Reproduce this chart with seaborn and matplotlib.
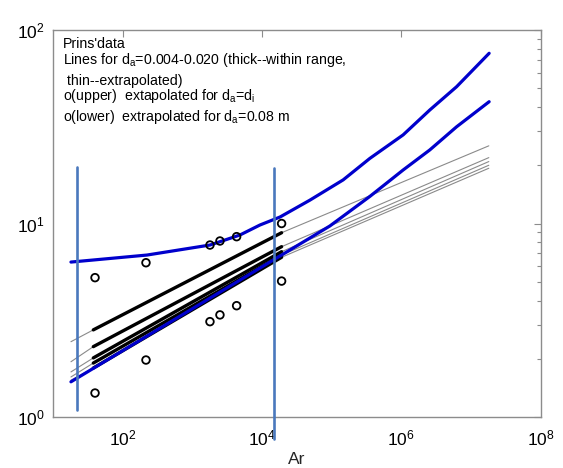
import matplotlib
matplotlib.use("Agg")
import matplotlib.pyplot as plt
import matplotlib.ticker as mticker
import numpy as np
import pandas as pd
import seaborn as sns

# ---------------- data ----------------
# Prins' data points (Ar, upper value, lower value)
ar_points = [40.1, 216, 1790, 2490, 4320, 19100]
y_upper_points = [5.25, 6.27, 7.74, 8.12, 8.55, 10.0]
y_lower_points = [1.33, 1.97, 3.11, 3.37, 3.76, 5.04]

# lines for d_a = 0.004 ... 0.020 : values at four Ar knots
ar_knots = [18.1, 37.9, 19100, 1.8e7]
line_1 = [2.45, 2.82, 8.96, 25.2]
line_2 = [1.93, 2.31, 7.59, 21.9]
line_3 = [1.71, 2.02, 7.15, 20.9]
line_4 = [1.61, 1.90, 6.87, 20.0]
line_5 = [1.55, 1.79, 6.69, 19.3]
thick_range = [37.9, 19100]

# blue envelope curves
ar_env_upper = [18.1, 223, 1790, 4820, 9330, 18100, 48600, 146000, 353000,
                1.06e6, 2.56e6, 6.2e6, 1.82e7]
y_env_upper = [6.32, 6.87, 7.74, 8.72, 9.82, 10.8, 13.2, 16.8, 21.7,
               28.7, 38.6, 50.9, 75.8]
ar_env_lower = [18.1, 94200, 353000, 1.06e6, 2.56e6, 6.2e6, 1.82e7]
y_env_lower = [1.52, 9.71, 13.8, 18.9, 24.0, 31.6, 42.6]

# vertical marker lines (Ar position, y bottom, y top)
vline_ar = [21.9, 15000]
vline_bottom = [1.087, 0.77]
vline_top = [19.6, 19.4]

x_tick_values = [1e2, 1e4, 1e6, 1e8]
y_tick_values = [1e0, 1e1, 1e2]

# ---------------- style ----------------
sns.set_style("white")
plt.rcParams["font.family"] = ["Liberation Sans", "DejaVu Sans"]
plt.rcParams["mathtext.fontset"] = "custom"
plt.rcParams["mathtext.rm"] = "Liberation Sans"
plt.rcParams["mathtext.it"] = "Liberation Sans:italic"
plt.rcParams["mathtext.bf"] = "Liberation Sans:bold"

W, H = 563, 468
fig = plt.figure(figsize=(W / 100, H / 100), dpi=100)
left, right, top, bottom = 53, 540.7, 30, 417
ax = fig.add_axes([left / W, 1 - bottom / H, (right - left) / W, (bottom - top) / H])
ax.set_xscale("log")
ax.set_yscale("log")

lines = [line_1, line_2, line_3, line_4, line_5]
grey = "#8a8a8a"
for ln in lines:
    df = pd.DataFrame({"Ar": ar_knots, "val": ln})
    sns.lineplot(data=df, x="Ar", y="val", ax=ax, color=grey, lw=0.8,
                 sort=False, estimator=None)
for ln in lines:
    df = pd.DataFrame({"Ar": ar_knots, "val": ln})
    df = df[(df["Ar"] >= thick_range[0]) & (df["Ar"] <= thick_range[1])]
    sns.lineplot(data=df, x="Ar", y="val", ax=ax, color="black", lw=2.4,
                 sort=False, estimator=None)

blue = "#0000cc"
sns.lineplot(x=ar_env_upper, y=y_env_upper, ax=ax, color=blue, lw=2.3,
             sort=False, estimator=None)
sns.lineplot(x=ar_env_lower, y=y_env_lower, ax=ax, color=blue, lw=2.3,
             sort=False, estimator=None)

pts = pd.DataFrame({"Ar": ar_points * 2, "v": y_upper_points + y_lower_points})
sns.scatterplot(data=pts, x="Ar", y="v", ax=ax, marker="o", s=30,
                facecolors="none", edgecolor="black", linewidth=1.3, zorder=5)

for xv, yb, yt in zip(vline_ar, vline_bottom, vline_top):
    ax.plot([xv, xv], [yb, yt], color="#4a78bd", lw=1.9, clip_on=False, zorder=10)

ax.set_xlim(10, 1e8)
ax.set_ylim(1, 100)
ax.set_xticks(x_tick_values)
ax.xaxis.set_minor_locator(mticker.NullLocator())
ax.set_yticks(y_tick_values)
ax.yaxis.set_minor_locator(mticker.LogLocator(base=10, subs=np.arange(2, 10)))
ax.yaxis.set_minor_formatter(mticker.NullFormatter())

spine_col = "#8c8c8c"
for s in ax.spines.values():
    s.set_visible(True)
    s.set_color(spine_col)
    s.set_linewidth(1.0)
ax.tick_params(which="both", direction="in", top=True, right=True,
               color=spine_col, labelsize=12.5, labelcolor="black")
ax.tick_params(which="major", length=5, width=0.8)
ax.tick_params(which="minor", length=3, width=0.8)
ax.tick_params(axis="x", pad=8)
ax.tick_params(axis="y", pad=6)
ax.set_xlabel("Ar", fontsize=12.5, labelpad=3)
ax.set_ylabel("")

def fpos(px, py):
    return px / W, 1 - py / H

txt = [
    (63.3, 48.0, "Prins'data"),
    (63.3, 64.0, r"Lines for d$_\mathregular{a}$=0.004-0.020 (thick--within range,"),
    (63.3, 85.0, r" thin--extrapolated)"),
    (63.3, 100.0, r"o(upper)  extapolated for d$_\mathregular{a}$=d$_\mathregular{i}$"),
    (63.3, 120.5, r"o(lower)  extrapolated for d$_\mathregular{a}$=0.08 m"),
]
for px, py, t in txt:
    x, y = fpos(px, py)
    fig.text(x, y, t, fontsize=10.2, va="baseline", ha="left", color="black")

fig.savefig("out.png", dpi=100)
